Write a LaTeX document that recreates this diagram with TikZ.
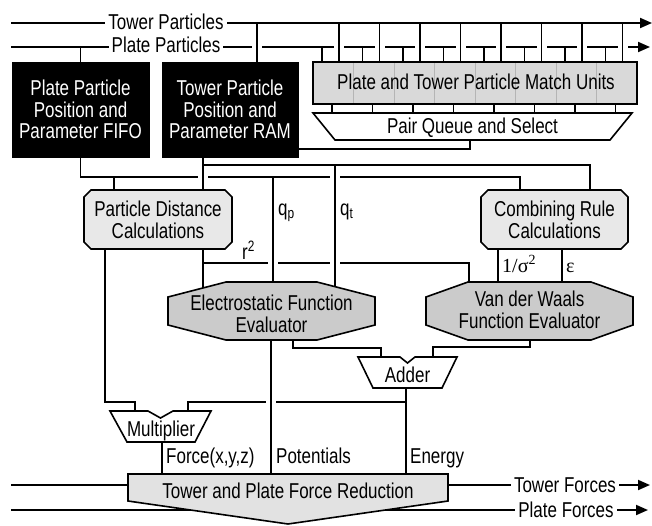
\documentclass[tikz,border=0pt]{standalone}
\usepackage{fontspec}
\setmainfont{Liberation Sans}[FakeStretch=0.79]
\newfontfamily\serifgreek{Liberation Serif}
\usetikzlibrary{arrows.meta}
\pgfdeclarelayer{bg}
\pgfsetlayers{bg,main}
\definecolor{matchfill}{HTML}{D9D9D9}
\definecolor{distfill}{HTML}{E8E8E8}
\definecolor{evalfill}{HTML}{CBCBCB}
\definecolor{forcefill}{HTML}{E2E2E2}
\definecolor{divline}{HTML}{B5B5B5}
\newcommand\myoct[7]{\draw[shapeline,fill=#7] (#1-#3+#5,#2-#4) -- (#1+#3-#5,#2-#4) -- (#1+#3,#2-#4+#6) -- (#1+#3,#2+#4-#6) -- (#1+#3-#5,#2+#4) -- (#1-#3+#5,#2+#4) -- (#1-#3,#2+#4-#6) -- (#1-#3,#2-#4+#6) -- cycle;}
\begin{document}
\begin{tikzpicture}[x=1pt,y=-1pt,
  bigfont/.style={font=\fontsize{21.5}{21.5}\selectfont},
  txt/.style={bigfont,inner sep=0pt,align=center},
  lbl/.style={bigfont,inner sep=0pt,anchor=base west},
  bus/.style={bigfont,fill=white,inner xsep=3pt,inner ysep=1pt,anchor=base},
  blackbox/.style={txt,draw=black,fill=black,text=white},
  shapeline/.style={draw=black,line width=1.6pt},
  wire/.style={draw=black,line width=1.9pt},
  arr/.style={wire,-{Triangle[length=12pt,width=10pt]}},
  divider/.style={draw=divline,line width=0.9pt},
]
\useasboundingbox (0,0) rectangle (652,525);

% ---------- blocks ----------
\node[blackbox,minimum width=137pt,minimum height=95pt] (fifo) at (80.5,109.5) {Plate Particle\\Position and\\Parameter FIFO};
\node[blackbox,minimum width=136pt,minimum height=95pt] (ram) at (230,109.5) {Tower Particle\\Position and\\Parameter RAM};

\node[shapeline,fill=matchfill,minimum width=324pt,minimum height=42pt,inner sep=0pt] (match) at (475,83) {};
\foreach \k in {1,...,7} \draw[divider] ({313+40.5*\k},63) -- ({313+40.5*\k},103);
\node[txt,anchor=base] (matchtxt) at (476,89.5) {Plate and Tower Particle Match Units};

\draw[shapeline,fill=white] (313,113) -- (632,113) -- (610,140) -- (335,140) -- cycle;
\node[txt,anchor=base] (pq) at (472.5,133.5) {Pair Queue and Select};

\myoct{158}{219.5}{74}{29.5}{7}{7}{distfill}
\node[txt] (dist) at (158,220) {Particle Distance\\Calculations};
\myoct{554.5}{219.5}{73.5}{29.5}{7}{7}{distfill}
\node[txt] (comb) at (554.5,220) {Combining Rule\\Calculations};

\myoct{271.5}{311}{103.5}{29}{58}{15}{evalfill}
\node[txt] (elec) at (271.5,314) {Electrostatic Function\\Evaluator};
\myoct{529.5}{311}{103.5}{29}{42}{15}{evalfill}
\node[txt] (vdw) at (529.5,310) {Van der Waals\\Function Evaluator};

\draw[shapeline,fill=white] (110,411) -- (148,411) -- (160.5,418) -- (173,411) -- (211,411) -- (195,442) -- (127,442) -- cycle;
\node[txt,anchor=base] (mult) at (161,436.5) {Multiplier};
\draw[shapeline,fill=white] (358,357) -- (400,357) -- (407.5,363) -- (415,357) -- (457,357) -- (442,388) -- (373,388) -- cycle;
\node[txt,anchor=base] (adder) at (407.5,382.5) {Adder};

\draw[shapeline,fill=forcefill] (128,474) -- (448,474) -- (448,501) -- (288,524) -- (128,501) -- cycle;
\node[txt,anchor=base] (force) at (288,498.5) {Tower and Plate Force Reduction};

% ---------- bus labels ----------
\node[bus] (tp) at (166,29) {Tower Particles};
\node[bus] (pp) at (166,52.5) {Plate Particles};
\node[bus] (tf) at (565,492.5) {Tower Forces};
\node[bus] (pf) at (566,517) {Plate Forces};

% ---------- signal labels ----------
\node[lbl] (r2) at (242,259) {r\textsuperscript{2}};
\node[lbl] (qp) at (278,215) {q\textsubscript{p}};
\node[lbl] (qt) at (340,215) {q\textsubscript{t}};
\node[lbl,font=\serifgreek\fontsize{20}{22}\selectfont] (sig) at (502,272) {1/σ\textsuperscript{2}};
\node[lbl,font=\serifgreek\fontsize{20}{22}\selectfont] (eps) at (566,272) {ε};
\node[lbl] (fxyz) at (166,463.5) {Force(x,y,z)};
\node[lbl] (pot) at (276,463.5) {Potentials};
\node[lbl] (en) at (410,463.5) {Energy};

% ---------- wires ----------
\begin{pgfonlayer}{bg}
\begin{scope}[every path/.style={wire}]
\draw[arr] (11,23) -- (652,23);
\draw[arr] (11,47) -- (650,47);
\draw (257,23) -- (257,62);
\draw (fifo.north |- 0,47) -- (fifo.north);
\foreach \k in {0,...,7}{
  \draw ({339+40.5*\k},23) -- ({339+40.5*\k},62);
  \draw ({322+40.5*\k},47) -- ({322+40.5*\k},62);
  \draw ({332+40.5*\k},104) -- ({332+40.5*\k},113);
}
% pair queue to RAM
\draw (470,140) -- (470,149) -- (ram.east |- 0,149);
% RAM outputs
\draw (203,157) -- (203,190);
\draw (203,165) -- (590,165) -- (590,190);
\draw (335,165) -- (335,290);
% FIFO outputs
\draw (fifo.south) -- (80.5,177) -- (520,177) -- (520,190);
\draw (114,177) -- (114,190);
\draw (273,177) -- (273,284);
% distance outputs
\draw (105,249) -- (105,402) -- (135,402) -- (135,412);
\draw (203,249) -- (203,292);
\draw (203,263) -- (469,263) -- (469,284);
% combining outputs
\draw (498,249) -- (498,284);
\draw (562,249) -- (562,284);
% electrostatic outputs
\draw (271,340) -- (271,475);
\draw (293,340) -- (293,348) -- (381,348) -- (381,358);
% vdw output
\draw (530,340) -- (530,347) -- (433,347) -- (433,358);
% adder output
\draw (406,388) -- (406,475);
\draw (406,402) -- (188,402) -- (188,412);
% multiplier output
\draw (162,442) -- (162,475);
% forces
\draw (11,485) -- (128,485);
\draw[arr] (448,485) -- (650,485);
\draw[arr] (11,510) -- (648,510);
\end{scope}
% crossings without junction
\foreach \gx/\gy in {257/47, 203/177, 335/177, 273/263, 335/263, 271/402}{
  \fill[white] (\gx-5,\gy-3) rectangle (\gx+5,\gy+3);
  \draw[wire] (\gx,\gy-7) -- (\gx,\gy+7);
}
\foreach \k in {0,...,7}{
  \pgfmathsetmacro\gx{339+40.5*\k}
  \fill[white] (\gx-5,44) rectangle (\gx+5,50);
  \draw[wire] (\gx,40) -- (\gx,54);
}
\end{pgfonlayer}
\end{tikzpicture}
\end{document}
